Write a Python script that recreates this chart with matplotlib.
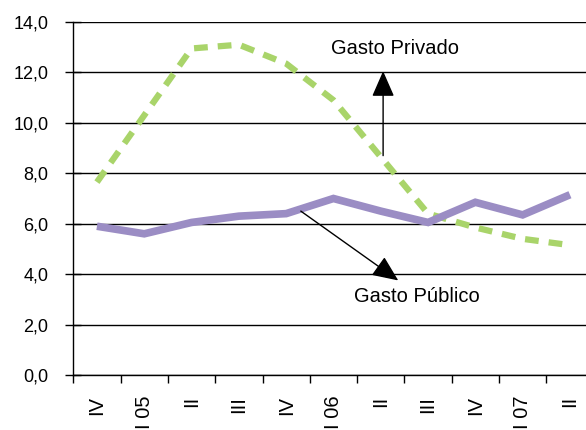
import numpy as np
import matplotlib
matplotlib.use('Agg')
import matplotlib.pyplot as plt

plt.rcParams['font.family'] = ['Liberation Sans', 'DejaVu Sans']

quarters = ['IV', 'I 05', 'II', 'III', 'IV', 'I 06', 'II', 'III', 'IV', 'I 07', 'II']
gastoPublico = [5.9, 5.6, 6.05, 6.3, 6.4, 7.0, 6.5, 6.05, 6.85, 6.35, 7.15]
gastoPrivado = [7.65, 10.3, 12.95, 13.1, 12.35, 10.9, 8.65, 6.4, 5.85, 5.4, 5.15]
yTicks = [0, 2, 4, 6, 8, 10, 12, 14]

fig = plt.figure(figsize=(5.86, 4.30), dpi=100)
ax = fig.add_axes([73.3 / 586, 55 / 430, 1 - 73.3 / 586, 353 / 430])

x = np.arange(len(quarters))

ax.plot(x, gastoPrivado, color='#A9D46A', linewidth=4.5,
        linestyle=(0, (2.2, 1.6)), solid_capstyle='butt', dash_capstyle='butt', zorder=3)
ax.plot(x, gastoPublico, color='#9B8DC4', linewidth=5.5,
        solid_joinstyle='miter', solid_capstyle='butt', zorder=4)

ax.set_xlim(-0.5, -0.5 + (586 - 73.3) / 47.3)
ax.set_ylim(0, 14)

ax.set_yticks(yTicks)
ax.yaxis.set_major_formatter(plt.FuncFormatter(lambda v, p: ('%.1f' % v).replace('.', ',')))
ax.grid(axis='y', color='black', linewidth=1.0)
ax.set_axisbelow(True)

# ticks between categories, labels at category centers
ax.set_xticks(np.arange(len(quarters)) - 0.5)
ax.set_xticklabels([])
ax.set_xticks(x, minor=True)
ax.set_xticklabels(quarters, minor=True, rotation=90, va='top', ha='center')
ax.tick_params(axis='x', which='minor', length=0, pad=15, labelsize=14.5)
ax.tick_params(axis='x', which='major', direction='out', length=6, width=1)
ax.tick_params(axis='y', direction='inout', length=12, width=1, labelsize=13, pad=12)

for side in ['top', 'right']:
    ax.spines[side].set_visible(False)
ax.spines['left'].set_linewidth(1)
ax.spines['bottom'].set_linewidth(1)

arrowProps = dict(arrowstyle='-|>,head_length=0.8,head_width=0.35', mutation_scale=20,
                  color='black', lw=1, shrinkA=0, shrinkB=0)

ax.annotate('', xy=(6.05, 12.05), xytext=(6.05, 8.7), arrowprops=arrowProps, zorder=5)
ax.text(6.3, 12.95, 'Gasto Privado', ha='center', va='center', fontsize=14.5)

ax.annotate('', xy=(6.37, 3.75), xytext=(4.31, 6.5), arrowprops=arrowProps, zorder=5)
ax.text(6.76, 3.1, 'Gasto Público', ha='center', va='center', fontsize=14.5)

plt.savefig('out.png', dpi=100)
